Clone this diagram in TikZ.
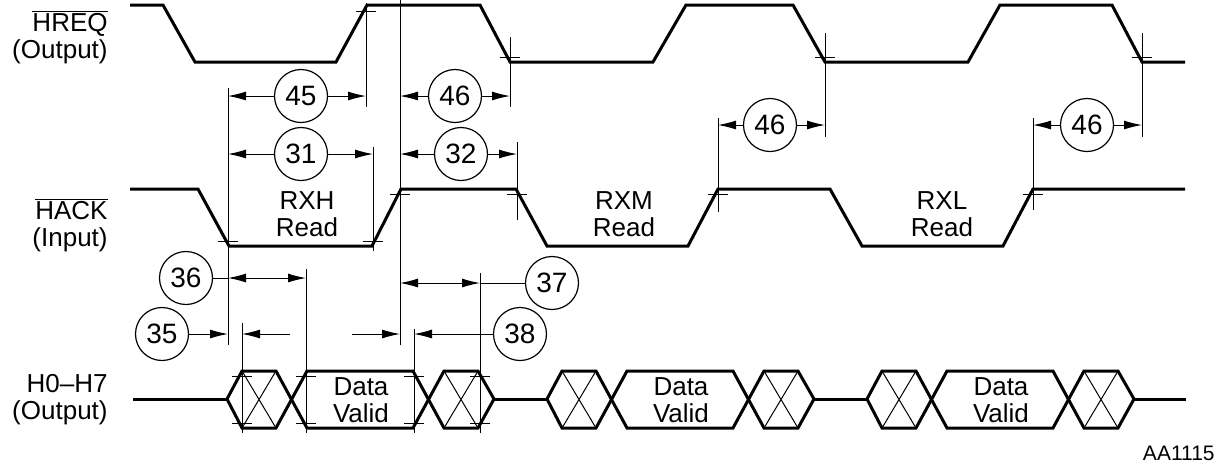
\documentclass[tikz,border=0pt]{standalone}
\usepackage{fontspec}
\setmainfont{Liberation Sans}
\usetikzlibrary{arrows.meta}

\begin{document}
\begin{tikzpicture}[x=0.5pt,y=-0.5pt,
  every node/.style={font=\fontsize{13pt}{13.5pt}\selectfont,inner sep=0pt},
  wave/.style={line width=1.5pt,line join=miter},
  refline/.style={line width=0.5pt},
  dimto/.style={refline,-{Latex[length=9pt,width=4.5pt]}},
  dimboth/.style={refline,{Latex[length=9pt,width=4.5pt]}-{Latex[length=9pt,width=4.5pt]}},
  tnum/.style={circle,draw,line width=0.6pt,minimum size=26.5pt,font=\fontsize{14pt}{15pt}\selectfont}]
\useasboundingbox (0,0) rectangle (1223,468);

% signal names
\node (lreq) [anchor=east,align=right] at (108,37) {$\overline{\mbox{HREQ}}$\\(Output)};
\node (lack) [anchor=east,align=right] at (108,225) {$\overline{\mbox{HACK}}$\\(Input)};
\node (lbus) [anchor=east,align=right] at (108,400) {H0--H7\\(Output)};

% HREQ
\draw[wave] (130,5) -- (163,5) -- (195,62) -- (336,62) -- (367,5) -- (480,5) -- (510,62)
  -- (653,62) -- (686,5) -- (793,5) -- (825,62) -- (968,62) -- (1000,5) -- (1112,5)
  -- (1142,62) -- (1185,62);

% HACK
\draw[wave] (130,189) -- (198,189) -- (229,246) -- (372,246) -- (401,189) -- (516,189)
  -- (547,246) -- (688,246) -- (718,189) -- (830,189) -- (862,246) -- (1003,246)
  -- (1033,189) -- (1185,189);
\node (rxh) [align=center] at (307,214) {RXH\\Read};
\node (rxm) [align=center] at (624,214) {RXM\\Read};
\node (rxl) [align=center] at (942,214) {RXL\\Read};

% H0-H7
\draw[wave] (133,399) -- (227,399);
\draw[wave] (494,399) -- (547,399);
\draw[wave] (814,399) -- (867,399);
\draw[wave] (1134,399) -- (1186,399);
\foreach \s [count=\i] in {227,547,867} {
  \draw[wave] (\s,399) -- (\s+15,371) -- (\s+49,371) -- (\s+80,428) -- (\s+186,428)
    -- (\s+217,371) -- (\s+251,371) -- (\s+267,399);
  \draw[wave] (\s,399) -- (\s+15,428) -- (\s+49,428) -- (\s+80,371) -- (\s+186,371)
    -- (\s+217,428) -- (\s+251,428) -- (\s+267,399);
  \draw[refline] (\s+15,371) -- (\s+49,428) (\s+15,428) -- (\s+49,371);
  \draw[refline] (\s+217,371) -- (\s+251,428) (\s+217,428) -- (\s+251,371);
  \node (dv\i) [align=center] at (\s+134,400) {Data\\Valid};
}

% reference lines
\coordinate (tA) at (228,88);
\coordinate (tB) at (366,3);
\coordinate (tC) at (400,0);
\coordinate (tD) at (373,147);
\coordinate (tE) at (510,37);
\coordinate (tF) at (517,142);
\coordinate (tG) at (718,118);
\coordinate (tH) at (825,33);
\coordinate (tI) at (1033,118);
\coordinate (tJ) at (1142,33);
\coordinate (dA) at (242,323);
\coordinate (dB) at (306,269);
\coordinate (dC) at (414,329);
\coordinate (dD) at (480,273);
\draw[refline] (tA) -- ++(0,257) (tB) -- ++(0,104) (tC) -- ++(0,345)
  (tD) -- ++(0,104) (tE) -- ++(0,70) (tF) -- ++(0,78) (tG) -- ++(0,94)
  (tH) -- ++(0,104) (tI) -- ++(0,92) (tJ) -- ++(0,104);
\draw[refline] (dA) -- ++(0,110) (dB) -- ++(0,164) (dC) -- ++(0,104) (dD) -- ++(0,160);
\foreach \x/\y in {366/11,510/57,825/57,1142/57,228/241,373/241,400/194,517/194,718/194,1033/194}
  \draw[refline] (\x-10,\y) -- (\x+10,\y);
\foreach \x in {242,306,414,480}
  \draw[refline] (\x-10,376) -- (\x+10,376) (\x-10,423) -- (\x+10,423);

% timing numbers
\node (c45) [tnum] at (301,96) {45};
\node (c31) [tnum] at (301,154) {31};
\node (c46a) [tnum] at (455,96) {46};
\node (c32) [tnum] at (461,154) {32};
\node (c46b) [tnum] at (770,125) {46};
\node (c46c) [tnum] at (1087,125) {46};
\node (c36) [tnum] at (186,278) {36};
\node (c37) [tnum] at (552,283) {37};
\node (c35) [tnum] at (162,334) {35};
\node (c38) [tnum] at (520,334) {38};

\draw[dimto] (c45.west) -- (c45.west -| tA);
\draw[dimto] (c45.east) -- (c45.east -| tB);
\draw[dimto] (c31.west) -- (c31.west -| tA);
\draw[dimto] (c31.east) -- (c31.east -| tD);
\draw[dimto] (c46a.west) -- (c46a.west -| tC);
\draw[dimto] (c46a.east) -- (c46a.east -| tE);
\draw[dimto] (c32.west) -- (c32.west -| tC);
\draw[dimto] (c32.east) -- (c32.east -| tF);
\draw[dimto] (c46b.west) -- (c46b.west -| tG);
\draw[dimto] (c46b.east) -- (c46b.east -| tH);
\draw[dimto] (c46c.west) -- (c46c.west -| tI);
\draw[dimto] (c46c.east) -- (c46c.east -| tJ);

\draw[refline] (c36.east) -- (c36.east -| tA);
\draw[dimboth] (c36.east -| tA) -- (c36.east -| dB);
\draw[refline] (c37.west) -- (c37.west -| dD);
\draw[dimboth] (c37.west -| tC) -- (c37.west -| dD);

\coordinate (s35a) at (290,334);
\coordinate (s35b) at (352,334);
\draw[dimto] (c35.east) -- (c35.east -| tA);
\draw[dimto] (s35a) -- (s35a -| dA);
\draw[dimto] (s35b) -- (s35b -| tC);
\draw[dimto] (c38.west) -- (c38.west -| dC);

\node (fig) [anchor=east,font=\fontsize{10.5pt}{12pt}\selectfont] at (1215,453) {AA1115};
\end{tikzpicture}
\end{document}
